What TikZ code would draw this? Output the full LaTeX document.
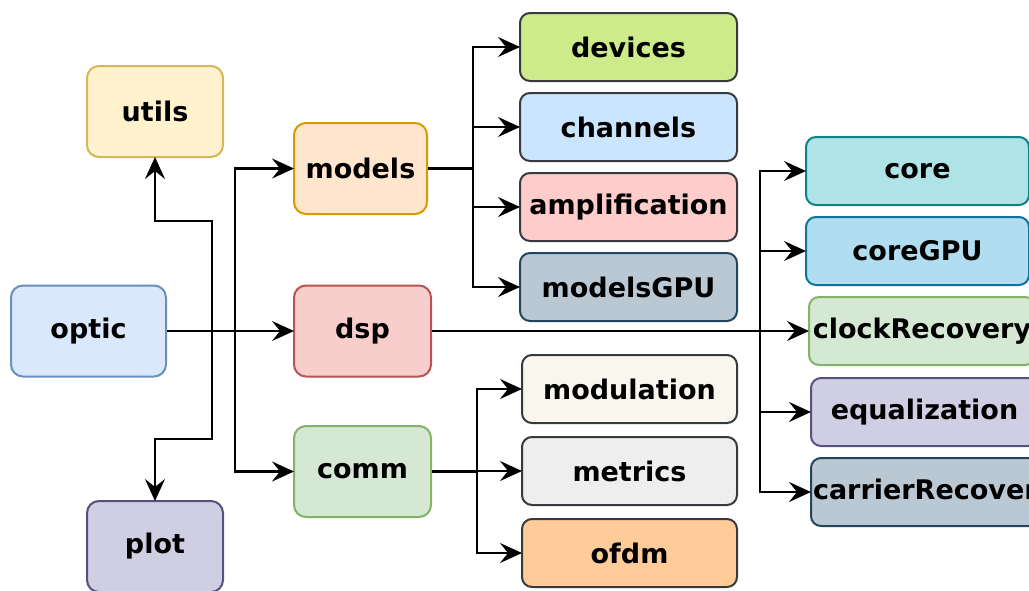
\documentclass[tikz,border=0pt]{standalone}
\usepackage{fontspec}
\setmainfont{DejaVu Sans}
\usepackage{tikz}
\usetikzlibrary{arrows.meta, positioning, calc}
\definecolor{utilfill}{HTML}{FFF2CC}
\definecolor{utildraw}{HTML}{D6B656}
\definecolor{opticfill}{HTML}{DAE8FC}
\definecolor{opticdraw}{HTML}{6C8EBF}
\definecolor{plotfill}{HTML}{D0CEE2}
\definecolor{plotdraw}{HTML}{56517E}
\definecolor{modelfill}{HTML}{FFE6CC}
\definecolor{modeldraw}{HTML}{D79B00}
\definecolor{dspfill}{HTML}{F8CECC}
\definecolor{dspdraw}{HTML}{B85450}
\definecolor{commfill}{HTML}{D5E8D4}
\definecolor{commdraw}{HTML}{82B366}
\definecolor{subdraw}{HTML}{36393D}
\definecolor{devfill}{HTML}{CDEB8B}
\definecolor{chanfill}{HTML}{CCE5FF}
\definecolor{ampfill}{HTML}{FFCCCC}
\definecolor{gpufill}{HTML}{BAC8D3}
\definecolor{gpudraw}{HTML}{23445D}
\definecolor{modfill}{HTML}{F9F7ED}
\definecolor{metfill}{HTML}{EEEEEE}
\definecolor{ofdmfill}{HTML}{FFCC99}
\definecolor{corefill}{HTML}{B0E3E6}
\definecolor{coredraw}{HTML}{0E8088}
\definecolor{cgpufill}{HTML}{B1DDF0}
\definecolor{cgpudraw}{HTML}{10739E}

\begin{document}
\begin{tikzpicture}[x=0.5pt, y=-0.5pt,
  pkg/.style={draw, line width=1pt, rounded corners=6pt, minimum width=68pt, minimum height=45.5pt, inner sep=1pt, font=\fontsize{13.5}{16}\selectfont\bfseries},
  sub/.style={pkg, rounded corners=5pt, minimum width=108.5pt, minimum height=34pt},
  link/.style={-{Stealth[length=11pt, width=10pt, inset=4pt]}, line width=1.1pt, shorten >=-0.5pt}]
  \useasboundingbox (0,0) rectangle (1029,590);
  \clip (0,0) rectangle (1029,590);

  % top level packages
  \node[pkg, draw=utildraw, fill=utilfill] (utils) at (155,111.5) {utils};
  \node[pkg, draw=opticdraw, fill=opticfill, minimum width=77.5pt] (optic) at (88.5,331) {optic};
  \node[pkg, draw=plotdraw, fill=plotfill] (plot) at (155,546.5) {plot};
  \node[pkg, draw=modeldraw, fill=modelfill, minimum width=66.5pt] (models) at (360.5,168.5) {models};
  \node[pkg, draw=dspdraw, fill=dspfill, minimum width=68.5pt] (dsp) at (362.5,331) {dsp};
  \node[pkg, draw=commdraw, fill=commfill, minimum width=68.5pt] (comm) at (362.5,471.5) {comm};

  % models
  \node[sub, draw=subdraw, fill=devfill] (devices) at (628.5,47) {devices};
  \node[sub, draw=subdraw, fill=chanfill] (channels) at (628.5,127) {channels};
  \node[sub, draw=subdraw, fill=ampfill] (amplification) at (628.5,207) {amplification};
  \node[sub, draw=gpudraw, fill=gpufill] (modelsGPU) at (628.5,287) {modelsGPU};

  % comm
  \node[sub, draw=subdraw, fill=modfill, minimum width=107.5pt] (modulation) at (629.5,389) {modulation};
  \node[sub, draw=subdraw, fill=metfill, minimum width=107.5pt] (metrics) at (629.5,471) {metrics};
  \node[sub, draw=subdraw, fill=ofdmfill, minimum width=107.5pt] (ofdm) at (629.5,553) {ofdm};

  % dsp
  \node[sub, anchor=west, draw=coredraw, fill=corefill, minimum width=111.5pt] (core) at (805,171) {core};
  \node[sub, anchor=west, draw=cgpudraw, fill=cgpufill, minimum width=111.5pt] (coreGPU) at (805,251) {coreGPU};
  \node[sub, anchor=west, draw=commdraw, fill=commfill, minimum width=113pt] (clockRecovery) at (808,331) {clockRecovery};
  \node[sub, anchor=west, draw=plotdraw, fill=plotfill, minimum width=113.5pt] (equalization) at (810,412) {equalization};
  \node[sub, anchor=west, draw=gpudraw, fill=gpufill, minimum width=116.5pt] (carrierRecovery) at (810,492) {carrierRecovery};

  % bus lines
  \coordinate (obus) at (235,0);
  \coordinate (mbus) at (473,0);
  \coordinate (cbus) at (477,0);
  \coordinate (dbus) at (760,0);

  \draw[link] (optic.east) -| (212,221) -| (utils.south);
  \draw[link] (optic.east) -| (212,439) -| (plot.north);
  \draw[link] (optic.east) -- (dsp.west);
  \foreach \n in {models,comm}
    \draw[link] (optic.east) -- (optic.east -| obus) |- (\n.west);
  \foreach \n in {devices,channels,amplification,modelsGPU}
    \draw[link] (models.east) -- (models.east -| mbus) |- (\n.west);
  \foreach \n in {modulation,metrics,ofdm}
    \draw[link] (comm.east) -- (comm.east -| cbus) |- (\n.west);
  \foreach \n in {core,coreGPU,clockRecovery,equalization,carrierRecovery}
    \draw[link] (dsp.east) -- (dsp.east -| dbus) |- (\n.west);
\end{tikzpicture}
\end{document}
